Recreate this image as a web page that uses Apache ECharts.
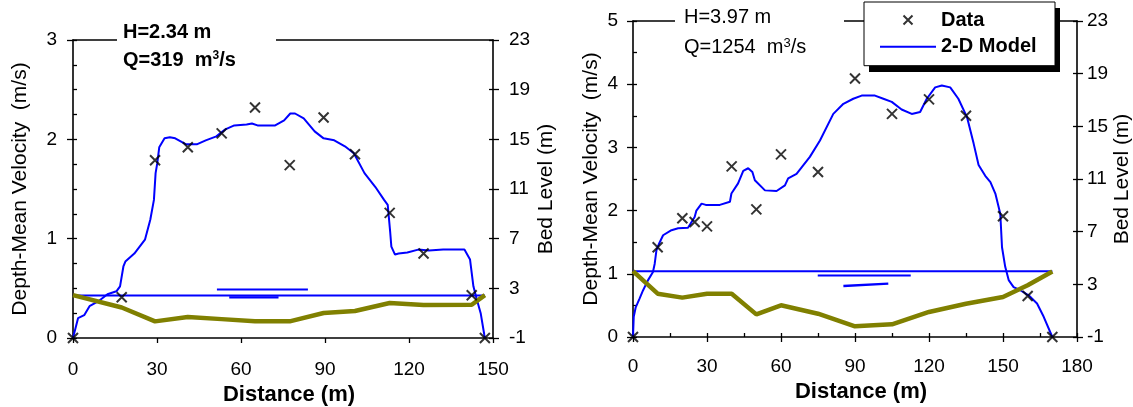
<!DOCTYPE html>
<html>
<head>
<meta charset="utf-8">
<script src="https://cdn.jsdelivr.net/npm/echarts@6/dist/echarts.min.js"></script>
<style>
  html, body { margin: 0; padding: 0; background: #fff; }
  #chart { width: 1133px; height: 407px; }
</style>
</head>
<body>
<div id="chart"></div>
<script>
// left panel: H=2.34 m, Q=319 m3/s
const distL = [0, 17.4, 29.3, 41.0, 53.1, 65.0, 77.4, 89.5, 100.7, 113.1, 125.2, 142.4, 147.1];
const velL = [0, 0.41, 1.79, 1.92, 2.06, 2.32, 1.74, 2.22, 1.85, 1.26, 0.85, 0.43, 0];
const bedL = [2.45, 1.46, 0.34, 0.69, 0.52, 0.34, 0.34, 1.01, 1.17, 1.82, 1.65, 1.68, 2.45];
const modelDistL = [0, 1.8, 4.0, 5.9, 9.1, 12.3, 15.5, 16.8, 18.0, 18.7, 21.9, 25.7, 27.6, 28.9, 29.5,
    30.1, 30.8, 32.7, 34.6, 36.5, 40.4, 44.2, 47.4, 51.2, 54.4, 57.6, 62.0, 63.9, 65.9, 72.2,
    75.4, 77.6, 79.3, 82.4, 86.3, 89.5, 93.3, 97.1, 100.3, 104.1, 108.0, 111.1, 112.4, 113.3, 113.7,
    115.0, 116.3, 119.4, 123.3, 127.1, 132.2, 139.8, 141.8, 143.0, 144.3, 145.6, 146.9, 147.1];
const modelVelL = [0, 0.20, 0.23, 0.32, 0.37, 0.44, 0.47, 0.52, 0.72, 0.77, 0.85, 0.99, 1.19, 1.39, 1.66,
    1.76, 1.92, 2.01, 2.02, 2.01, 1.95, 1.95, 1.99, 2.03, 2.10, 2.14, 2.15, 2.16, 2.14, 2.14,
    2.19, 2.26, 2.26, 2.21, 2.08, 2.01, 1.99, 1.93, 1.86, 1.66, 1.52, 1.39, 1.34, 1.06, 0.92,
    0.84, 0.85, 0.86, 0.89, 0.88, 0.89, 0.89, 0.79, 0.52, 0.38, 0.25, 0.03, 0];
const waterL = [[0, 2.43], [147.1, 2.43]];
const waterTopL = [[51.4, 2.91], [83.9, 2.91]];
const waterBotL = [[55.8, 2.27], [73.4, 2.27]];

// right panel: H=3.97 m, Q=1254 m3/s
const distR = [0, 10, 20, 25, 30, 40, 50, 60, 75, 90, 105, 120, 135, 150, 160, 170];
const velR = [0, 1.42, 1.88, 1.82, 1.75, 2.70, 2.02, 2.89, 2.61, 4.09, 3.53, 3.76, 3.50, 1.91, 0.65, 0];
const bedDistR = [0, 10, 20, 30, 40, 50, 60, 75, 90, 105, 120, 135, 150, 160, 170];
const bedR = [4.0, 2.29, 1.99, 2.29, 2.29, 0.72, 1.41, 0.77, -0.19, -0.04, 0.90, 1.53, 2.04, 2.93, 3.97];
const modelDistR = [0, 0.3, 1.1, 2.7, 4.1, 6.1, 8.1, 8.8, 9.5, 10.6, 12.2, 15.6, 18.3, 22.3, 25.0,
    25.7, 27.8, 29.5, 35.2, 39.3, 39.9, 42.6, 44.7, 46.7, 48.4, 49.4, 53.5, 58.2, 61.6, 62.9,
    66.3, 71.7, 75.8, 81.2, 85.3, 89.3, 92.7, 98.1, 101.5, 104.9, 108.9, 113.0, 116.4, 119.1, 122.5,
    125.2, 128.6, 131.9, 135.4, 138.1, 140.1, 142.8, 144.9, 146.9, 148.9, 149.6, 150.9, 152.3, 154.3, 157.0,
    160.4, 163.8, 166.5, 170];
const modelVelR = [0, 0.32, 0.47, 0.61, 0.74, 0.90, 1.03, 1.16, 1.37, 1.48, 1.61, 1.69, 1.72, 1.73, 1.90,
    2.00, 2.11, 2.09, 2.09, 2.14, 2.27, 2.43, 2.63, 2.67, 2.61, 2.48, 2.32, 2.31, 2.40, 2.51,
    2.58, 2.85, 3.11, 3.53, 3.69, 3.77, 3.82, 3.82, 3.77, 3.72, 3.60, 3.53, 3.56, 3.77, 3.95,
    3.98, 3.95, 3.77, 3.48, 3.06, 2.72, 2.55, 2.45, 2.27, 1.95, 1.42, 1.11, 0.90, 0.79, 0.74,
    0.66, 0.53, 0.32, 0];
const waterR = [[0, 4.0], [170, 4.0]];
const waterTopR = [[74.9, 3.68], [112.6, 3.68]];
const waterBotR = [[85.3, 2.87], [103.5, 3.05]];

const FONT = 'Liberation Sans, Arial, sans-serif';
const BLUE = '#0000ff';
const OLIVE = '#808000';
const CROSS = 'path://M0,0L10,10M10,0L0,10';

const zip = (xs, ys) => xs.map((x, i) => [x, ys[i]]);

const lineAxis = { show: true, onZero: false, lineStyle: { color: '#000', width: 1.6 } };
const labelStyle = (margin) => ({ color: '#000', fontSize: 19, fontFamily: FONT, margin: margin });

function mainX (grid, max, labelMargin, nameGap) {
    return {
        gridIndex: grid, type: 'value', position: 'bottom', min: 0, max: max, interval: 30,
        axisLine: lineAxis,
        axisTick: { show: true, inside: false, length: 5, lineStyle: { color: '#000', width: 1.3 } },
        axisLabel: labelStyle(labelMargin),
        splitLine: { show: false },
        name: 'Distance (m)', nameLocation: 'middle', nameGap: nameGap,
        nameTextStyle: { color: '#000', fontSize: 22, fontWeight: 'bold', fontFamily: FONT, padding: [0, 0, 0, 12] }
    };
}
function tickAxis (grid, position, min, max, interval) {
    return {
        gridIndex: grid, type: 'value', position: position, min: min, max: max, interval: interval,
        axisLine: { show: false, onZero: false },
        axisTick: { show: true, inside: true, length: 4, lineStyle: { color: '#000', width: 1.3 } },
        axisLabel: { show: false },
        splitLine: { show: false }
    };
}
function frameTop (grid, max) {
    return {
        gridIndex: grid, type: 'value', position: 'top', min: 0, max: max,
        axisLine: lineAxis, axisTick: { show: false }, axisLabel: { show: false }, splitLine: { show: false }
    };
}
function valueY (grid, position, min, max, interval, name, labelMargin, nameGap) {
    return {
        gridIndex: grid, type: 'value', position: position, min: min, max: max, interval: interval,
        axisLine: lineAxis,
        axisTick: { show: true, inside: false, length: 6, lineStyle: { color: '#000', width: 1.3 } },
        axisLabel: labelStyle(labelMargin),
        splitLine: { show: false },
        name: name, nameLocation: 'middle', nameGap: nameGap,
        nameTextStyle: { color: '#000', fontSize: 21, fontFamily: FONT }
    };
}

function panelSeries (x, y, bed, model, data, water, wTop, wBot, bedLine) {
    return [
        {
            name: '2-D Model', type: 'line', xAxisIndex: x, yAxisIndex: y, data: model,
            symbol: 'none', lineStyle: { color: BLUE, width: 2 }, itemStyle: { color: BLUE }, z: 2
        },
        {
            type: 'line', xAxisIndex: x, yAxisIndex: bed, data: water, symbol: 'none',
            lineStyle: { color: BLUE, width: 2 }, z: 2, silent: true
        },
        {
            type: 'line', xAxisIndex: x, yAxisIndex: bed, data: wTop, symbol: 'none',
            lineStyle: { color: BLUE, width: 2 }, z: 2, silent: true
        },
        {
            type: 'line', xAxisIndex: x, yAxisIndex: bed, data: wBot, symbol: 'none',
            lineStyle: { color: BLUE, width: 2.4 }, z: 2, silent: true
        },
        {
            type: 'line', xAxisIndex: x, yAxisIndex: bed, data: bedLine,
            symbol: 'none', lineStyle: { color: OLIVE, width: 4.5 }, z: 3, silent: true
        },
        {
            name: 'Data', type: 'scatter', xAxisIndex: x, yAxisIndex: y, data: data,
            symbol: CROSS, symbolSize: 10,
            itemStyle: { color: 'rgba(0,0,0,0)', borderColor: '#000', borderWidth: 2 }, z: 5
        }
    ];
}

const chart = echarts.init(document.getElementById('chart'), null, { renderer: 'canvas' });

const option = {
    animation: false,
    backgroundColor: '#fff',
    grid: [
        { left: 73, top: 40, width: 420, height: 298, show: false, outerBoundsMode: 'none' },
        { left: 633, top: 21, width: 444, height: 316, show: false, outerBoundsMode: 'none' }
    ],
    xAxis: [
        mainX(0, 150, 22, 42),
        frameTop(0, 150),
        mainX(1, 180, 20, 42),
        tickAxis(1, 'bottom', 0, 180, 15),
        frameTop(1, 180)
    ],
    yAxis: [
        valueY(0, 'left', 0, 3, 1, 'Depth-Mean Velocity  (m/s)', 16, 42),
        tickAxis(0, 'left', 0, 3, 0.25),
        valueY(0, 'right', -1, 23, 4, 'Bed Level (m)', 16, 43),
        tickAxis(0, 'right', -1, 23, 4),
        valueY(1, 'left', 0, 5, 1, 'Depth-Mean Velocity  (m/s)', 15, 31),
        tickAxis(1, 'left', 0, 5, 0.5),
        valueY(1, 'right', -1, 23, 4, 'Bed Level (m)', 10, 31),
        tickAxis(1, 'right', -1, 23, 4)
    ],
    legend: {
        show: true, orient: 'vertical', left: 864, top: 2, z: 6,
        data: ['Data', { name: '2-D Model', itemStyle: { opacity: 0 } }],
        selectedMode: false,
        itemWidth: 56, itemHeight: 9, itemGap: 4.7,
        padding: [7, 7, 8, 15],
        backgroundColor: '#fff', borderColor: '#000', borderWidth: 1,
        textStyle: { color: '#000', fontSize: 20, fontWeight: 'bold', fontFamily: FONT, lineHeight: 22, width: 107 }
    },
    graphic: [
        // legend drop shadow
        { type: 'rect', z: 5, shape: { x: 869, y: 8, width: 191, height: 64 }, style: { fill: '#000' } },
        // gaps in the top frame behind the annotations
        { type: 'rect', z: 5, shape: { x: 117, y: 37, width: 159, height: 6 }, style: { fill: '#fff' } },
        { type: 'rect', z: 5, shape: { x: 675, y: 18, width: 169, height: 6 }, style: { fill: '#fff' } },
        {
            type: 'text', x: 123, y: 32, z: 7,
            style: { text: 'H=2.34 m', fontSize: 20, fontWeight: 'bold', fontFamily: FONT, fill: '#000', verticalAlign: 'middle' }
        },
        {
            type: 'text', x: 123, y: 60, z: 7,
            style: {
                text: '{b|Q=319  m}{s|3}{b|/s}', verticalAlign: 'middle', fill: '#000',
                rich: {
                    b: { fontSize: 20, fontWeight: 'bold', fontFamily: FONT },
                    s: { fontSize: 12, fontWeight: 'bold', fontFamily: FONT, verticalAlign: 'top' }
                }
            }
        },
        {
            type: 'text', x: 684, y: 17, z: 7,
            style: { text: 'H=3.97 m', fontSize: 20, fontFamily: FONT, fill: '#000', verticalAlign: 'middle' }
        },
        {
            type: 'text', x: 684, y: 47, z: 7,
            style: {
                text: '{b|Q=1254  m}{s|3}{b|/s}', verticalAlign: 'middle', fill: '#000',
                rich: {
                    b: { fontSize: 20, fontFamily: FONT },
                    s: { fontSize: 13, fontFamily: FONT, verticalAlign: 'top' }
                }
            }
        }
    ],
    series: [].concat(
        panelSeries(0, 0, 2, zip(modelDistL, modelVelL), zip(distL, velL), waterL, waterTopL, waterBotL, zip(distL, bedL)),
        panelSeries(2, 4, 6, zip(modelDistR, modelVelR), zip(distR, velR), waterR, waterTopR, waterBotR, zip(bedDistR, bedR))
    )
};

chart.setOption(option);
</script>
</body>
</html>
